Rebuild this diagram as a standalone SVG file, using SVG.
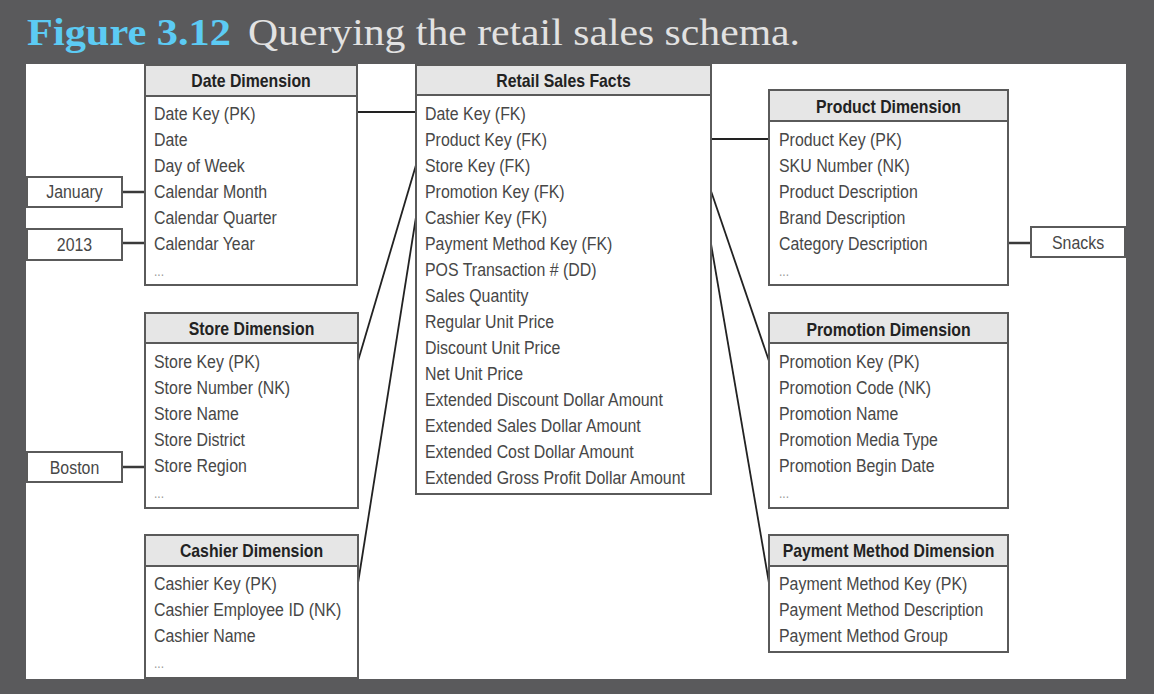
<svg xmlns="http://www.w3.org/2000/svg" width="1154" height="694" viewBox="0 0 1154 694">
<style>
.bg{fill:#5a5a5c}
.panel{fill:#ffffff}
.box{fill:#ffffff;stroke:#5a5a5a;stroke-width:2}
.hdr{fill:#e6e6e6;stroke:#5a5a5a;stroke-width:2}
.ht{font-family:"Liberation Sans",Arial,sans-serif;font-weight:bold;font-size:18.5px;fill:#222;text-anchor:middle}
.rt{font-family:"Liberation Sans",Arial,sans-serif;font-size:18.5px;fill:#474747}
.dots{font-family:"Liberation Sans",sans-serif;font-size:14px;fill:#999}
.vt{font-family:"Liberation Sans",Arial,sans-serif;font-size:18.5px;fill:#474747;text-anchor:middle}
.ln{stroke:#222;stroke-width:1.8;fill:none}
.lv{stroke:#3a3a3a;stroke-width:2.5;fill:none}
.t1{font-family:"Liberation Serif","DejaVu Serif",serif;font-weight:bold;font-size:38px;fill:#5ccbf4}
.t2{font-family:"Liberation Serif","DejaVu Serif",serif;font-size:38px;fill:#e2e2e2}
</style>
<rect class="bg" x="0" y="0" width="1154" height="694"/>
<rect class="panel" x="26" y="64" width="1100" height="615"/>
<g id="title">
<text class="t1" x="27" y="45" textLength="204" lengthAdjust="spacingAndGlyphs">Figure 3.12</text>
<text class="t2" x="248" y="45" textLength="552" lengthAdjust="spacingAndGlyphs">Querying the retail sales schema.</text>
</g>
<g id="connectors">
<line class="ln" x1="357" y1="112" x2="416" y2="112"/>
<line class="ln" x1="711" y1="139" x2="769" y2="139"/>
<line class="ln" x1="416" y1="165" x2="358" y2="361"/>
<line class="ln" x1="416" y1="217" x2="358" y2="583"/>
<line class="ln" x1="711" y1="191" x2="769" y2="361"/>
<line class="ln" x1="711" y1="244" x2="769" y2="583"/>
<line class="lv" x1="122" y1="192" x2="145" y2="192"/>
<line class="lv" x1="122" y1="243" x2="145" y2="243"/>
<line class="lv" x1="122" y1="467" x2="145" y2="467"/>
<line class="lv" x1="1008" y1="243" x2="1031" y2="243"/>
</g>
<g id="date-dimension">
<rect class="box" x="145" y="65" width="212" height="220"/>
<rect class="hdr" x="145" y="65" width="212" height="31"/>
<text class="ht" transform="translate(251 87) scale(0.855 1)">Date Dimension</text>
<g transform="translate(154 0) scale(0.86 1)">
<text class="rt" x="0" y="120">Date Key (PK)</text>
<text class="rt" x="0" y="146">Date</text>
<text class="rt" x="0" y="172">Day of Week</text>
<text class="rt" x="0" y="198">Calendar Month</text>
<text class="rt" x="0" y="224">Calendar Quarter</text>
<text class="rt" x="0" y="250">Calendar Year</text>
<text class="dots" x="0" y="276">...</text>
</g>
</g>
<g id="value-january">
<rect class="box" x="27" y="177" width="95" height="30"/>
<text class="vt" transform="translate(74.5 198) scale(0.86 1)">January</text>
</g>
<g id="value-2013">
<rect class="box" x="27" y="229" width="95" height="31"/>
<text class="vt" transform="translate(74.5 251) scale(0.86 1)">2013</text>
</g>
<g id="retail-sales-facts">
<rect class="box" x="416" y="65" width="295" height="429"/>
<rect class="hdr" x="416" y="65" width="295" height="30"/>
<text class="ht" transform="translate(563.5 87) scale(0.855 1)">Retail Sales Facts</text>
<g transform="translate(425 0) scale(0.86 1)">
<text class="rt" x="0" y="120">Date Key (FK)</text>
<text class="rt" x="0" y="146">Product Key (FK)</text>
<text class="rt" x="0" y="172">Store Key (FK)</text>
<text class="rt" x="0" y="198">Promotion Key (FK)</text>
<text class="rt" x="0" y="224">Cashier Key (FK)</text>
<text class="rt" x="0" y="250">Payment Method Key (FK)</text>
<text class="rt" x="0" y="276">POS Transaction # (DD)</text>
<text class="rt" x="0" y="302">Sales Quantity</text>
<text class="rt" x="0" y="328">Regular Unit Price</text>
<text class="rt" x="0" y="354">Discount Unit Price</text>
<text class="rt" x="0" y="380">Net Unit Price</text>
<text class="rt" x="0" y="406">Extended Discount Dollar Amount</text>
<text class="rt" x="0" y="432">Extended Sales Dollar Amount</text>
<text class="rt" x="0" y="458">Extended Cost Dollar Amount</text>
<text class="rt" x="0" y="484">Extended Gross Profit Dollar Amount</text>
</g>
</g>
<g id="product-dimension">
<rect class="box" x="769" y="90" width="239" height="195"/>
<rect class="hdr" x="769" y="90" width="239" height="31"/>
<text class="ht" transform="translate(888.5 113) scale(0.855 1)">Product Dimension</text>
<g transform="translate(779 0) scale(0.86 1)">
<text class="rt" x="0" y="146">Product Key (PK)</text>
<text class="rt" x="0" y="172">SKU Number (NK)</text>
<text class="rt" x="0" y="198">Product Description</text>
<text class="rt" x="0" y="224">Brand Description</text>
<text class="rt" x="0" y="250">Category Description</text>
<text class="dots" x="0" y="276">...</text>
</g>
</g>
<g id="value-snacks">
<rect class="box" x="1031" y="227" width="94" height="30"/>
<text class="vt" transform="translate(1078 249) scale(0.86 1)">Snacks</text>
</g>
<g id="store-dimension">
<rect class="box" x="145" y="313" width="213" height="195"/>
<rect class="hdr" x="145" y="313" width="213" height="30"/>
<text class="ht" transform="translate(251.5 335) scale(0.855 1)">Store Dimension</text>
<g transform="translate(154 0) scale(0.86 1)">
<text class="rt" x="0" y="368">Store Key (PK)</text>
<text class="rt" x="0" y="394">Store Number (NK)</text>
<text class="rt" x="0" y="420">Store Name</text>
<text class="rt" x="0" y="446">Store District</text>
<text class="rt" x="0" y="472">Store Region</text>
<text class="dots" x="0" y="498">...</text>
</g>
</g>
<g id="value-boston">
<rect class="box" x="27" y="452" width="95" height="30"/>
<text class="vt" transform="translate(74.5 474) scale(0.86 1)">Boston</text>
</g>
<g id="cashier-dimension">
<rect class="box" x="145" y="535" width="213" height="143"/>
<rect class="hdr" x="145" y="535" width="213" height="31"/>
<text class="ht" transform="translate(251.5 557) scale(0.855 1)">Cashier Dimension</text>
<g transform="translate(154 0) scale(0.86 1)">
<text class="rt" x="0" y="590">Cashier Key (PK)</text>
<text class="rt" x="0" y="616">Cashier Employee ID (NK)</text>
<text class="rt" x="0" y="642">Cashier Name</text>
<text class="dots" x="0" y="668">...</text>
</g>
</g>
<g id="promotion-dimension">
<rect class="box" x="769" y="313" width="239" height="195"/>
<rect class="hdr" x="769" y="313" width="239" height="30"/>
<text class="ht" transform="translate(888.5 336) scale(0.855 1)">Promotion Dimension</text>
<g transform="translate(779 0) scale(0.86 1)">
<text class="rt" x="0" y="368">Promotion Key (PK)</text>
<text class="rt" x="0" y="394">Promotion Code (NK)</text>
<text class="rt" x="0" y="420">Promotion Name</text>
<text class="rt" x="0" y="446">Promotion Media Type</text>
<text class="rt" x="0" y="472">Promotion Begin Date</text>
<text class="dots" x="0" y="498">...</text>
</g>
</g>
<g id="payment-method-dimension">
<rect class="box" x="769" y="535" width="239" height="117"/>
<rect class="hdr" x="769" y="535" width="239" height="31"/>
<text class="ht" transform="translate(888.5 557) scale(0.855 1)">Payment Method Dimension</text>
<g transform="translate(779 0) scale(0.86 1)">
<text class="rt" x="0" y="590">Payment Method Key (PK)</text>
<text class="rt" x="0" y="616">Payment Method Description</text>
<text class="rt" x="0" y="642">Payment Method Group</text>
</g>
</g>
</svg>
